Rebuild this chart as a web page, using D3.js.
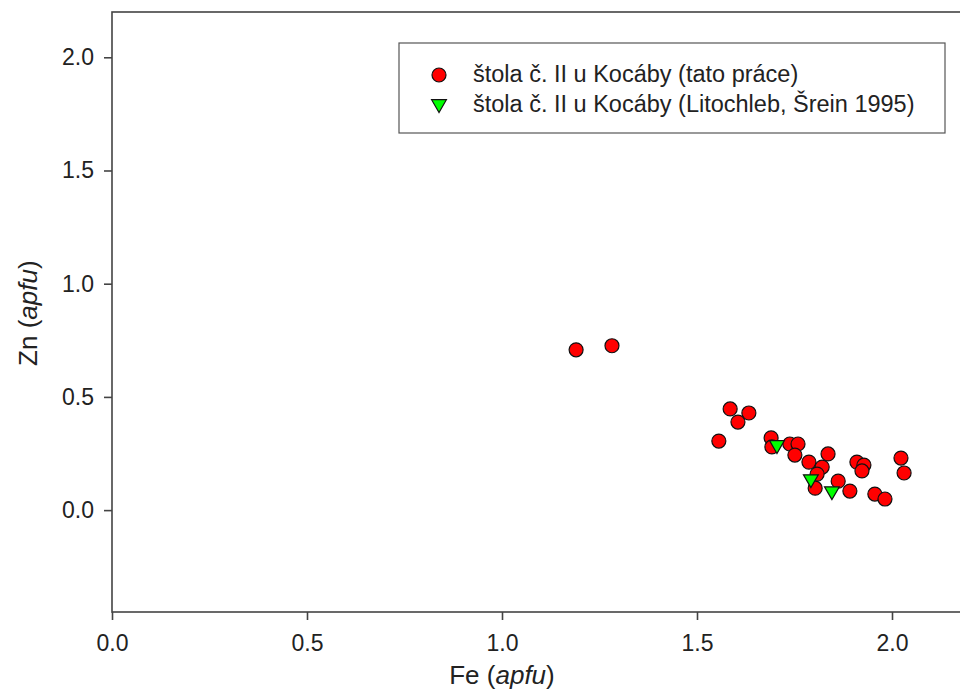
<!DOCTYPE html>
<html>
<head>
<meta charset="utf-8">
<script src="https://cdn.jsdelivr.net/npm/d3@7"></script>
<style>
  html, body { margin: 0; padding: 0; background: #fff; }
  svg { display: block; font-family: "Liberation Sans", Arial, sans-serif; }
  .axis text { font-size: 23px; fill: #222; }
  .axis line, .axis path { stroke: #444; stroke-width: 1.6; }
</style>
</head>
<body>
<div id="chart"></div>
<script>
// Fe vs Zn (apfu), this work
var feThis = [1.190, 1.282, 1.585, 1.633, 1.605, 1.556, 1.690, 1.692, 1.738, 1.759,
              1.751, 1.787, 1.821, 1.836, 1.808, 1.803, 1.862, 1.892, 1.910, 1.928,
              1.923, 1.956, 1.982, 2.023, 2.031];
var znThis = [0.708, 0.726, 0.447, 0.429, 0.389, 0.305, 0.319, 0.279, 0.292, 0.292,
              0.243, 0.212, 0.190, 0.248, 0.159, 0.097, 0.128, 0.084, 0.212, 0.199,
              0.173, 0.071, 0.049, 0.230, 0.164];
// Litochleb, Šrein 1995
var feLit = [1.705, 1.792, 1.846];
var znLit = [0.288, 0.137, 0.084];

var xTicks = [0, 0.5, 1.0, 1.5, 2.0];
var yTicks = [0, 0.5, 1.0, 1.5, 2.0];
var seriesNames = ['štola č. II u Kocáby (tato práce)', 'štola č. II u Kocáby (Litochleb, Šrein 1995)'];

var width = 960, height = 689;

var svg = d3.select('#chart').append('svg')
  .attr('width', width)
  .attr('height', height);

var x = d3.scaleLinear().domain([0, 2.2]).range([112, 970]);
var y = d3.scaleLinear().domain([-0.45, 2.2]).range([612, 12]);

// frame (right edge falls outside the picture)
svg.append('rect')
  .attr('x', x(0))
  .attr('y', y(2.2))
  .attr('width', x(2.2) - x(0))
  .attr('height', y(-0.45) - y(2.2))
  .attr('fill', 'none')
  .attr('stroke', '#444')
  .attr('stroke-width', 1.6);

var xAxis = d3.axisBottom(x).tickValues(xTicks).tickSize(8).tickSizeOuter(0)
  .tickPadding(15).tickFormat(d3.format('.1f'));
var yAxis = d3.axisLeft(y).tickValues(yTicks).tickSize(8).tickSizeOuter(0)
  .tickPadding(10).tickFormat(d3.format('.1f'));

svg.append('g').attr('class', 'x axis')
  .attr('transform', 'translate(0,' + y(-0.45) + ')')
  .call(xAxis)
  .call(function(g) { g.select('.domain').remove(); })
  .selectAll('text').attr('font-family', null).attr('font-size', null);

svg.append('g').attr('class', 'y axis')
  .attr('transform', 'translate(' + x(0) + ',0)')
  .call(yAxis)
  .call(function(g) { g.select('.domain').remove(); })
  .selectAll('text').attr('font-family', null).attr('font-size', null);

// axis titles
var xTitle = svg.append('text')
  .attr('x', x(1.0))
  .attr('y', 684)
  .attr('text-anchor', 'middle')
  .attr('font-size', 26)
  .attr('fill', '#222');
xTitle.append('tspan').text('Fe (');
xTitle.append('tspan').attr('font-style', 'italic').text('apfu');
xTitle.append('tspan').text(')');

var yTitle = svg.append('text')
  .attr('transform', 'translate(37,' + y(0.87) + ') rotate(-90)')
  .attr('text-anchor', 'middle')
  .attr('font-size', 26)
  .attr('fill', '#222');
yTitle.append('tspan').text('Zn (');
yTitle.append('tspan').attr('font-style', 'italic').text('apfu');
yTitle.append('tspan').text(')');

// points
var dataThis = feThis.map(function(d, i) { return { fe: d, zn: znThis[i] }; });
var dataLit = feLit.map(function(d, i) { return { fe: d, zn: znLit[i] }; });

svg.append('g').selectAll('circle')
  .data(dataThis)
  .enter().append('circle')
  .attr('cx', function(d) { return x(d.fe); })
  .attr('cy', function(d) { return y(d.zn); })
  .attr('r', 7)
  .attr('fill', '#ff0000')
  .attr('stroke', '#111')
  .attr('stroke-width', 1.2);

var tri = d3.symbol().type(d3.symbolTriangle).size(95);

svg.append('g').selectAll('path')
  .data(dataLit)
  .enter().append('path')
  .attr('d', tri)
  .attr('transform', function(d) { return 'translate(' + x(d.fe) + ',' + y(d.zn) + ') rotate(180)'; })
  .attr('fill', '#00ff00')
  .attr('stroke', '#111')
  .attr('stroke-width', 1.2);

// legend
var legend = svg.append('g');
legend.append('rect')
  .attr('x', 399).attr('y', 43)
  .attr('width', 546).attr('height', 90)
  .attr('fill', '#fff')
  .attr('stroke', '#555')
  .attr('stroke-width', 1.2);

legend.append('circle')
  .attr('cx', 439).attr('cy', 75).attr('r', 7)
  .attr('fill', '#ff0000').attr('stroke', '#111').attr('stroke-width', 1.2);
legend.append('path')
  .attr('d', tri)
  .attr('transform', 'translate(439,104) rotate(180)')
  .attr('fill', '#00ff00').attr('stroke', '#111').attr('stroke-width', 1.2);

legend.selectAll('text.lbl')
  .data(seriesNames)
  .enter().append('text')
  .attr('class', 'lbl')
  .attr('x', 473)
  .attr('y', function(d, i) { return 82 + i * 30; })
  .attr('font-size', 23.5)
  .attr('fill', '#222')
  .text(function(d) { return d; });
</script>
</body>
</html>
